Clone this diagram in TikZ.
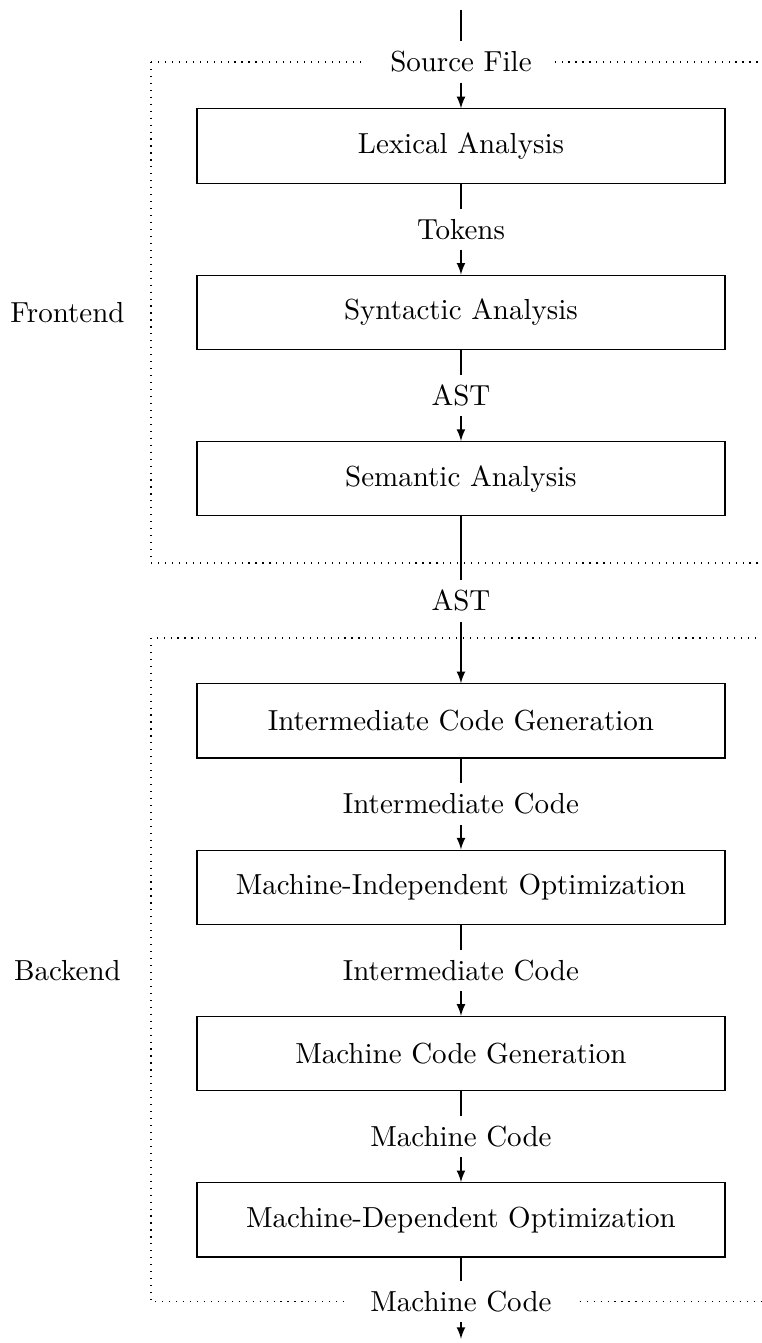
\documentclass[tikz,border=0pt]{standalone}
\usepackage{tikz}
\usetikzlibrary{arrows}
\newcommand{\widthstage}{6.4cm}
\newcommand{\heightstage}{0.9cm}
\newcommand{\stepstage}{1.008}
\tikzset{
    >=latex,
    stage/.style={draw, rectangle, minimum width=\widthstage, minimum height=\heightstage},
    datum/.style={fill=white, inner xsep=8pt},
    phase/.style={dotted},
}

\begin{document}
\begin{tikzpicture}
      \useasboundingbox (-5.588,0) rectangle (3.648,-16.28);

      % the two phases
      \draw[phase] (-3.757,-0.751) rectangle (3.757,-6.824);
      \draw[phase] (-3.757,-7.733) rectangle (3.757,-15.78);
      \node (frontend) at (-4.77,-3.786) {Frontend};
      \node (backend) at (-4.77,-11.77) {Backend};

      \path
          (0,-0.121) coordinate (input)
          (0,-0.751) node[datum] (source-file) {Source File}
          (0,-1.770) node[stage] (lexical) {Lexical Analysis}
          +(270:\stepstage) node[datum] (tokens) {Tokens}
          +(270:2*\stepstage) node[stage] (syntactic) {Syntactic Analysis}
          +(270:3*\stepstage) node[datum] (ast) {AST}
          +(270:4*\stepstage) node[stage] (semantic) {Semantic Analysis};

      \path
          (0,-7.284) node[datum] (ast-checked) {AST}
          (0,-8.739) node[stage] (intermediate) {Intermediate Code Generation}
          +(270:\stepstage) node[datum] (ir-1) {Intermediate Code}
          +(270:2*\stepstage) node[stage] (independent) {Machine-Independent Optimization}
          +(270:3*\stepstage) node[datum] (ir-2) {Intermediate Code}
          +(270:4*\stepstage) node[stage] (codegen) {Machine Code Generation}
          +(270:5*\stepstage) node[datum] (machine-code) {Machine Code}
          +(270:6*\stepstage) node[stage] (dependent) {Machine-Dependent Optimization}
          +(270:7.04) node[datum] (machine-code-out) {Machine Code}
          (0,-16.23) coordinate (output);

      \draw (input) -- (source-file);
      \draw[->] (source-file) -- (lexical);
      \draw (lexical) -- (tokens);
      \draw[->] (tokens) -- (syntactic);
      \draw (syntactic) -- (ast);
      \draw[->] (ast) -- (semantic);
      \draw (semantic) -- (ast-checked);
      \draw[->] (ast-checked) -- (intermediate);
      \draw (intermediate) -- (ir-1);
      \draw[->] (ir-1) -- (independent);
      \draw (independent) -- (ir-2);
      \draw[->] (ir-2) -- (codegen);
      \draw (codegen) -- (machine-code);
      \draw[->] (machine-code) -- (dependent);
      \draw (dependent) -- (machine-code-out);
      \draw[->] (machine-code-out) -- (output);
    \end{tikzpicture}
\end{document}
